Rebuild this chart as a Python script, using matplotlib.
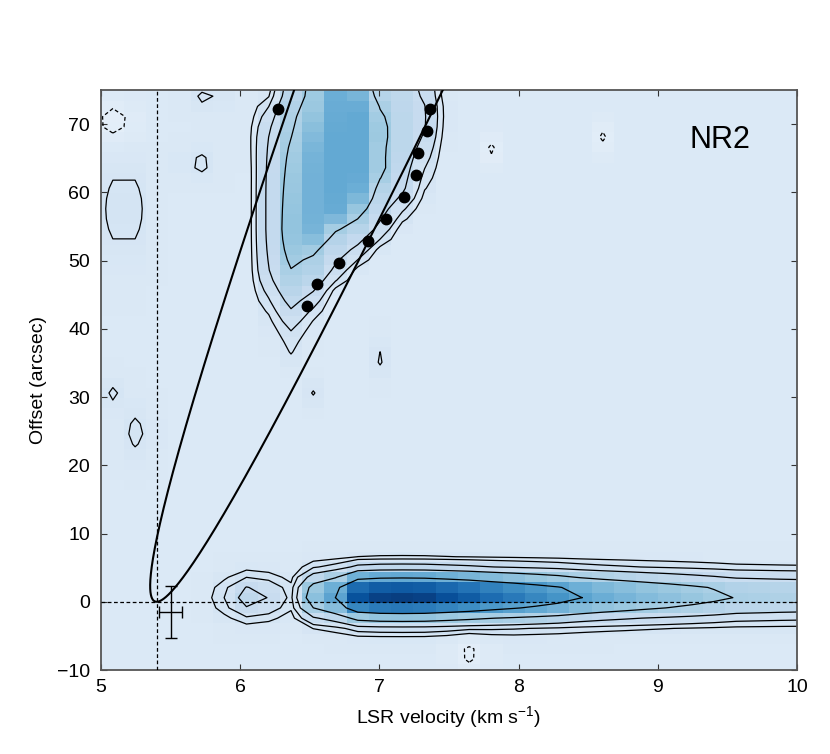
import numpy as np
import matplotlib
matplotlib.use("Agg")
import matplotlib.pyplot as plt

plt.rcParams['font.family'] = ['Liberation Sans', 'DejaVu Sans']
plt.rcParams['mathtext.fontset'] = 'custom'
plt.rcParams['mathtext.rm'] = 'Liberation Sans'
plt.rcParams['mathtext.it'] = 'Liberation Sans:italic'

# ---------------- data ----------------
# pixel grid of the position-velocity map
chan_start, chan_width, n_chan = 4.925, 0.16, 33      # km/s
row_start, row_width, row_lo, row_hi = 0.6, 1.5, -8, 51  # arcsec

# contour levels (relative units) - solid positive, dashed negative
pos_levels = [1, 2, 4, 8, 16]
neg_levels = [-1]

# main ridge along offset 0 : peak intensity per channel
ridge_v = [6.365, 6.525, 6.685, 6.845, 7.005, 7.165, 7.325, 7.485, 7.645, 7.805,
           7.965, 8.125, 8.285, 8.445, 8.605, 8.765, 8.925, 9.085, 9.245, 9.405,
           9.565, 9.725, 9.885, 10.045]
ridge_amp = [0.5, 11, 16.2, 29, 31.5, 32, 31.5, 29.5, 27.5, 25,
             23, 21, 19, 16.3, 14.5, 13.2, 12, 11, 10, 9.0,
             7.9, 7.6, 7.3, 7.1]
ridge_center, ridge_width = 0.9, 2.2

# small knot at 6.1 km/s
knot = dict(amp=5.3, v=6.08, y=0.7, sv_left=0.14, sv_right=0.16, sy=2.1)

# upper lobe: intensity per channel (columns) at offset nodes (rows)
lobe_chan = [6.045, 6.205, 6.365, 6.525, 6.685, 6.845, 7.005, 7.165, 7.325, 7.485]
lobe_y = [33, 36, 39, 42, 45, 48, 51, 54, 57, 60, 63, 66, 69, 72, 75, 78]
lobe = [
    [0, 0, 0, 0, 0, 0, 0, 0, 0, 0],
    [0, 0, 0.95, 0, 0, 0, 0, 0, 0, 0],
    [0, 0.2, 1.6, 0.3, 0, 0, 0, 0, 0, 0],
    [0, 0.9, 3.3, 1.2, 0, 0, 0, 0, 0, 0],
    [0, 2.2, 5.5, 3.5, 0, 0, 0, 0, 0, 0],
    [0, 3.8, 7.5, 6.5, 3.0, 0, 0, 0, 0, 0],
    [0, 4.3, 9.3, 7.75, 5.0, 2.8, 0, 0, 0, 0],
    [0, 4.6, 10.4, 13, 7.0, 5.5, 2.8, 0, 0, 0],
    [0, 4.6, 10.2, 13.5, 14.5, 9.0, 4.8, 1.8, 0, 0],
    [0, 4.6, 9.8, 13.5, 15, 14, 6.0, 4.3, 0.9, 0],
    [0, 4.5, 9.3, 13.5, 15, 15, 9.0, 5.0, 1.8, 0],
    [0.2, 4.3, 8.7, 13, 15, 15, 8.8, 5.5, 3.0, 0],
    [0.3, 3.9, 7.6, 11.5, 15, 15, 9.5, 5.5, 4.1, 0.3],
    [0, 2.4, 7.1, 9.7, 14.5, 15, 8.3, 5.5, 4.2, 0.5],
    [0, 0.3, 5.5, 9, 14, 12, 5.5, 5, 3.5, 0],
    [0, 0.3, 6.0, 9.5, 14, 12, 5.5, 5, 3.5, 0],
]

# isolated noise features: amplitude, velocity, offset, width_v, width_y
noise_amp = [1.7, 1.4, 1.35, -1.6, 1.15, 1.3, 1.08, 1.12, -1.15, -1.15, -1.3]
noise_v = [5.165, 5.78, 5.70, 5.10, 5.085, 5.26, 6.525, 7.005, 7.805, 8.605, 7.645]
noise_y = [57.5, 73.9, 64.25, 70.3, 30.6, 24.8, 30.6, 35.6, 66.3, 68.2, -7.5]
noise_sv = [0.12, 0.10, 0.10, 0.12, 0.07, 0.10, 0.05, 0.05, 0.06, 0.06, 0.10]
noise_sy = [5.5, 1.6, 1.8, 2.2, 1.8, 3.0, 1.6, 2.2, 1.8, 1.8, 2.0]

# shell-model curve: points traced on the two branches
model_left_v = [6.38, 6.07, 5.711, 5.639, 5.568, 5.496, 5.436, 5.388, 5.372]
model_left_y = [75.2, 56.3, 32.6, 26.7, 20.9, 16.4, 12.0, 7.15, 2.5]
model_right_v = [5.496, 5.711, 5.95, 6.19, 6.43, 6.91, 7.44]
model_right_y = [2.0, 7.2, 13.0, 22.8, 32.6, 52.9, 75.2]

# peak positions (dots)
dot_v = [6.27, 6.48, 6.55, 6.71, 6.92, 7.05, 7.18, 7.26, 7.28, 7.34, 7.36]
dot_y = [72.2, 43.4, 46.5, 49.6, 52.9, 56.1, 59.3, 62.6, 65.7, 69.0, 72.2]

# systemic velocity / source position, and resolution cross
v_sys, y_src = 5.4, 0.0
err_v, err_y, err_dv, err_dy = 5.50, -1.5, 0.08, 3.8

# ---------------- build the map ----------------
vc = chan_start + chan_width * np.arange(n_chan)
yc = row_start + row_width * np.arange(row_lo, row_hi + 1)
VV, YY = np.meshgrid(vc, yc)
Z = np.zeros_like(VV)

amp = np.interp(vc, ridge_v, ridge_amp, left=0.0, right=ridge_amp[-1])
Z += amp[None, :] * np.exp(-0.5 * ((yc[:, None] - ridge_center) / ridge_width) ** 2)

sv = np.where(VV < knot['v'], knot['sv_left'], knot['sv_right'])
Z += knot['amp'] * np.exp(-0.5 * ((VV - knot['v']) / sv) ** 2
                          - 0.5 * ((YY - knot['y']) / knot['sy']) ** 2)

lobe_arr = np.array(lobe, dtype=float)
for j, v in enumerate(lobe_chan):
    idx = int(round((v - chan_start) / chan_width))
    Z[:, idx] += np.interp(yc, lobe_y, lobe_arr[:, j], left=0.0, right=lobe_arr[-1, j])

for a, v0, y0, s1, s2 in zip(noise_amp, noise_v, noise_y, noise_sv, noise_sy):
    Z += a * np.exp(-0.5 * ((VV - v0) / s1) ** 2 - 0.5 * ((YY - y0) / s2) ** 2)

peak = 32.0
cval = np.where(Z > 0, 0.14 + 0.81 * np.clip(Z / peak, 0, None), 0.14 + 0.03 * Z)
cval = np.clip(cval, 0, 1)

# ---------------- shell parabola fitted to the traced points ----------------
# v - v_sys = alpha * y +/- b * sqrt(y)
yl = np.array(model_left_y); yr = np.array(model_right_y)
A = np.vstack([np.column_stack([yl, -np.sqrt(yl)]),
               np.column_stack([yr, np.sqrt(yr)])])
rhs = np.concatenate([np.array(model_left_v) - v_sys, np.array(model_right_v) - v_sys])
(alpha, bcoef), *_ = np.linalg.lstsq(A, rhs, rcond=None)
s = np.linspace(-np.sqrt(82), np.sqrt(82), 800)
curve_y = s ** 2
curve_v = v_sys + alpha * curve_y + bcoef * s

# ---------------- figure ----------------
fig = plt.figure(figsize=(8.3, 7.54), dpi=100)
ax = fig.add_axes([0.1217, 0.1114, 0.8385, 0.7692])

ext = [vc[0] - chan_width / 2, vc[-1] + chan_width / 2,
       yc[0] - row_width / 2, yc[-1] + row_width / 2]
ax.imshow(cval, cmap='Blues', vmin=0, vmax=1, origin='lower', extent=ext,
          aspect='auto', interpolation='nearest', zorder=0)

ax.contour(vc, yc, Z, levels=pos_levels, colors='black', linewidths=0.9, zorder=2)
ax.contour(vc, yc, Z, levels=neg_levels, colors='black', linewidths=0.9,
           linestyles=[(0, (3, 2))], zorder=2)

ax.plot(curve_v, curve_y, color='black', lw=1.5, zorder=3)

ax.plot(dot_v, dot_y, 'o', color='black', ms=7.5, zorder=4)

ax.axvline(v_sys, color='black', lw=0.9, ls=(0, (3, 2)), zorder=3)
ax.axhline(y_src, color='black', lw=0.9, ls=(0, (3, 2)), zorder=3)

ax.errorbar([err_v], [err_y], xerr=[err_dv], yerr=[err_dy], fmt='none',
            ecolor='black', elinewidth=1.0, capsize=4, capthick=1.0, zorder=4)

ax.text(0.889, 0.914, 'NR2', transform=ax.transAxes, fontsize=22,
        ha='center', va='center')

ax.set_xlim(5, 10)
ax.set_ylim(-10, 75)
ax.set_xticks([5, 6, 7, 8, 9, 10])
ax.set_yticks([-10, 0, 10, 20, 30, 40, 50, 60, 70])
ax.tick_params(direction='in', top=True, right=True, length=4, width=0.8,
               labelsize=14, colors='#333333', labelcolor='black')
ax.tick_params(axis='y', pad=8)
ax.tick_params(axis='x', pad=6.5)
for sp in ax.spines.values():
    sp.set_color('#555555')
    sp.set_linewidth(1.3)
ax.set_xlabel(r'LSR velocity (km s$^{-1}$)', fontsize=14, labelpad=6)
ax.set_ylabel('Offset (arcsec)', fontsize=14, labelpad=7)

fig.savefig('out.png', dpi=100)
